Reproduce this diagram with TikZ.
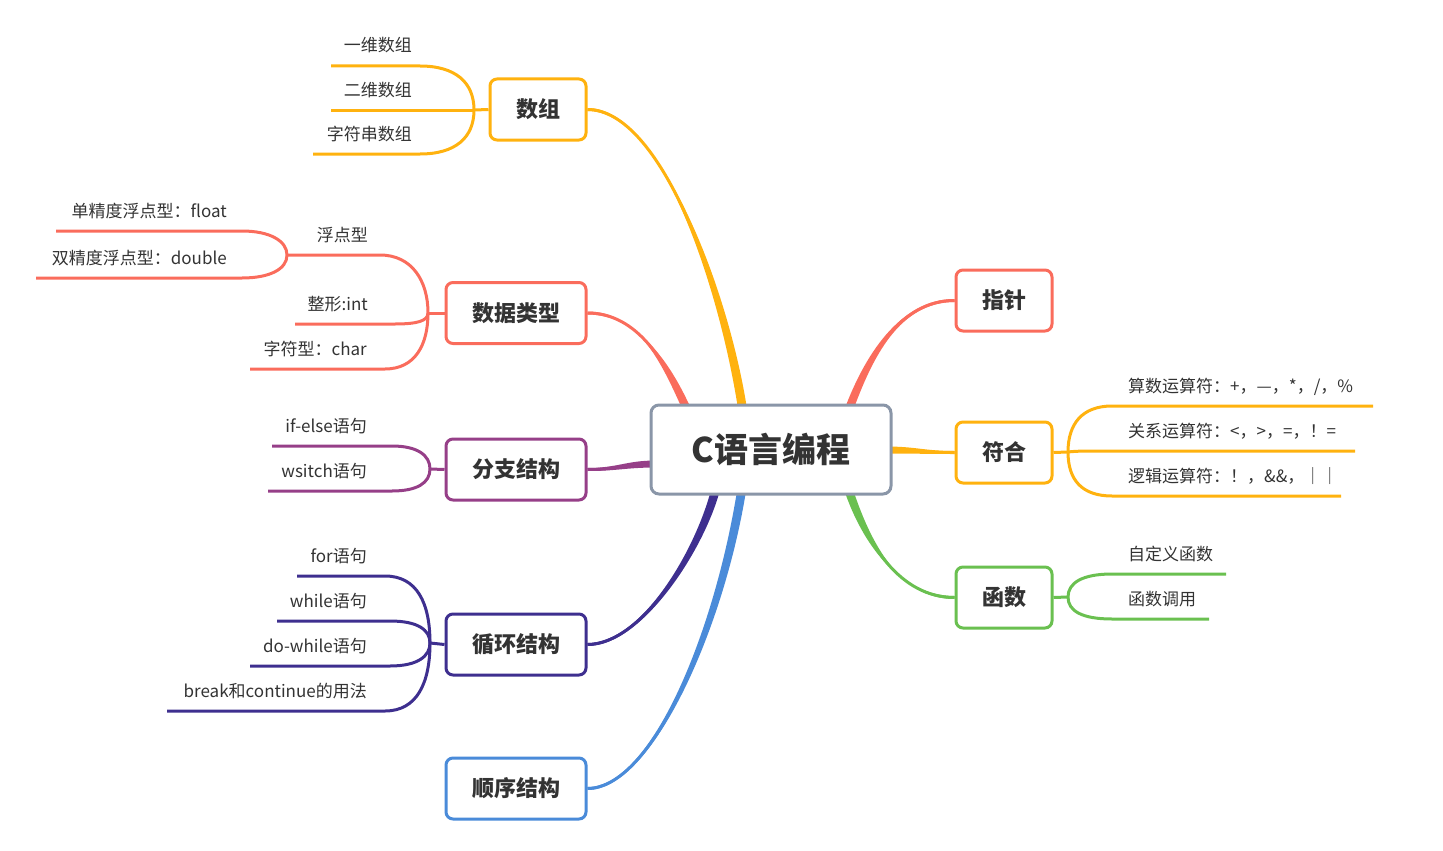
\documentclass[tikz,border=0pt]{standalone}
\usepackage{fontspec}
\setmainfont{Noto Sans CJK SC}
\usetikzlibrary{calc,backgrounds}
\definecolor{cy}{HTML}{FFB20F}
\definecolor{cr}{HTML}{FA6C5C}
\definecolor{cp}{HTML}{963F88}
\definecolor{cb}{HTML}{3E2F8F}
\definecolor{cl}{HTML}{4A8BD9}
\definecolor{cg}{HTML}{6AC050}
\definecolor{cc}{HTML}{8A96A8}
\definecolor{tx}{HTML}{333333}
\tikzset{
 topic/.style={draw=#1, line width=3pt, rounded corners=7pt, fill=white, text=tx,
   font=\fontsize{22}{26}\selectfont\bfseries, minimum height=61pt, minimum width=140pt, inner sep=0pt},
 lbl/.style={text=tx, font=\fontsize{17}{20}\selectfont, inner sep=0pt},
 subln/.style={draw=#1, line width=3pt},
 trunkln/.style={draw=#1, line width=3pt},
}
% color, fork, y, bendx, leftx, hx, vy, name
\newcommand\lbr[8]{%
  \coordinate (#8a) at (#5,#3); \coordinate (#8b) at (#4,#3);
  \draw[subln=#1] (#8a) -- (#8b) .. controls +(#6,0) and +(0,#7) .. (#2);}
\newcommand\rbr[8]{%
  \coordinate (#8a) at (#5,#3); \coordinate (#8b) at (#4,#3);
  \draw[subln=#1] (#2) .. controls +(0,#7) and +(-#6,0) .. (#8b) -- (#8a);}
% tapered trunk, vertical-ish end: color, start, end, c1, c2, endoffset sign
\newcommand\trv[5]{%
  \draw[trunkln=#1] (#2) .. controls +(#4) and +(#5) .. (#3);
  \fill[#1] ($(#2)+(0,-1.5)$) .. controls +(#4) and +(#5) .. ($(#3)+(-4.5,0)$) -- ($(#3)+(4.5,0)$) .. controls +(#5) and +(#4) .. ($(#2)+(0,1.5)$) -- cycle;}
\newcommand\trh[5]{%
  \draw[trunkln=#1] (#2) .. controls +(#4) and +(#5) .. (#3);
  \fill[#1] ($(#2)+(0,-1.5)$) .. controls +(#4) and +(#5) .. ($(#3)+(0,-3.5)$) -- ($(#3)+(0,3.5)$) .. controls +(#5) and +(#4) .. ($(#2)+(0,1.5)$) -- cycle;}
\begin{document}
\begin{tikzpicture}[x=1pt,y=-1pt]
\useasboundingbox (0,0) rectangle (1443,851);
% main nodes
\node[topic=cc, minimum width=240pt, minimum height=89pt, rounded corners=8pt,
  font=\fontsize{34}{40}\selectfont\bfseries] (c) at (771,449.5) {C语言编程};
\node[topic=cy, minimum width=96pt] (shuzu) at (538,109.5) {数组};
\node[topic=cr] (leixing) at (516,313) {数据类型};
\node[topic=cp] (fenzhi) at (516,469.5) {分支结构};
\node[topic=cb] (xunhuan) at (516,644.5) {循环结构};
\node[topic=cl] (shunxu) at (516,788.5) {顺序结构};
\node[topic=cr, minimum width=96pt] (zhizhen) at (1004,300.5) {指针};
\node[topic=cy, minimum width=96pt] (fuhe) at (1004,452.5) {符合};
\node[topic=cg, minimum width=96pt] (hanshu) at (1004,597.5) {函数};
% forks
\coordinate (f1) at (474,110);
\coordinate (f2) at (428,313);
\coordinate (f3) at (287,255);
\coordinate (f4) at (430,469);
\coordinate (f5) at (430,643);
\coordinate (f6) at (1068,452);
\coordinate (f7) at (1068,597);
% trunk ends
\coordinate (e1) at (743,412);
\coordinate (e2) at (688,412);
\coordinate (e3) at (656,464);
\coordinate (e4) at (716,488);
\coordinate (e5) at (742,488);
\coordinate (e6) at (848,412);
\coordinate (e7) at (886,450);
\coordinate (e8) at (848,488);
% labels
\node[lbl, anchor=base east] (t1) at (412,52) {一维数组};
\node[lbl, anchor=base east] (t2) at (412,96) {二维数组};
\node[lbl, anchor=base east] (t3) at (412,140) {字符串数组};
\node[lbl, anchor=base east] (t4) at (368,241) {浮点型};
\node[lbl, anchor=base east] (t5) at (368,310) {整形:int};
\node[lbl, anchor=base east] (t6) at (367,355) {字符型：char};
\node[lbl, anchor=base east] (t7) at (227,217) {单精度浮点型：float};
\node[lbl, anchor=base east] (t8) at (227,264) {双精度浮点型：double};
\node[lbl, anchor=base east] (t9) at (367,432) {if-else语句};
\node[lbl, anchor=base east] (t10) at (367,477) {wsitch语句};
\node[lbl, anchor=base east] (t11) at (367,562) {for语句};
\node[lbl, anchor=base east] (t12) at (367,607) {while语句};
\node[lbl, anchor=base east] (t13) at (367,652) {do-while语句};
\node[lbl, anchor=base east] (t14) at (367,697) {break和continue的用法};
\node[lbl, anchor=base west] (t15) at (1128,392) {算数运算符：+，—，*，/，\%};
\node[lbl, anchor=base west] (t16) at (1128,437) {关系运算符：<，>，=，！=};
\node[lbl, anchor=base west] (t17) at (1128,482) {逻辑运算符：！，\&\&，｜｜};
\node[lbl, anchor=base west] (t18) at (1128,560) {自定义函数};
\node[lbl, anchor=base west] (t19) at (1128,605) {函数调用};
\begin{pgfonlayer}{background}
% trunks (tapered)
\trv{cy}{shuzu.east}{e1}{74,0}{-18,-120}
\trv{cr}{leixing.east}{e2}{50,0}{-22,-50}
\trh{cp}{fenzhi.east}{e3}{30,0}{-30,0}
\trv{cb}{xunhuan.east}{e4}{55,0}{-15,60}
\trv{cl}{shunxu.east}{e5}{65,0}{-22,140}
\trv{cr}{zhizhen.west}{e6}{-55,0}{20,-55}
\trh{cy}{fuhe.west}{e7}{-30,0}{30,0}
\trv{cg}{hanshu.west}{e8}{-55,0}{18,55}
% stubs
\draw[subln=cy] (shuzu.west) -- (f1);
\draw[subln=cr] (leixing.west) -- (f2);
\draw[subln=cp] (fenzhi.west) -- (f4);
\draw[subln=cb] (xunhuan.west) -- (f5);
\draw[subln=cy] (fuhe.east) -- (f6);
\draw[subln=cg] (hanshu.east) -- (f7);
% sub branches
\lbr{cy}{f1}{66}{420}{331}{35}{-28}{s1}
\lbr{cy}{f1}{110}{440}{331}{20}{0}{s2}
\lbr{cy}{f1}{154}{420}{313}{35}{28}{s3}
\lbr{cr}{f2}{255}{380}{287}{32}{-32}{s4}
\lbr{cr}{f2}{324}{395}{295}{22}{8}{s5}
\lbr{cr}{f2}{369}{385}{250}{30}{32}{s6}
\lbr{cr}{f3}{231}{242}{56}{28}{-14}{s7}
\lbr{cr}{f3}{278}{242}{36}{28}{14}{s8}
\lbr{cp}{f4}{446}{392}{272}{25}{-14}{s9}
\lbr{cp}{f4}{491}{392}{268}{25}{14}{s10}
\lbr{cb}{f5}{576}{385}{297}{32}{-40}{s11}
\lbr{cb}{f5}{621}{390}{277}{28}{-13}{s12}
\lbr{cb}{f5}{666}{390}{250}{28}{13}{s13}
\lbr{cb}{f5}{711}{385}{167}{32}{40}{s14}
\rbr{cy}{f6}{406}{1112}{1373}{30}{-28}{r1}
\rbr{cy}{f6}{451}{1090}{1355}{15}{0}{r2}
\rbr{cy}{f6}{496}{1112}{1341}{30}{28}{r3}
\rbr{cg}{f7}{574}{1112}{1226}{30}{-14}{r4}
\rbr{cg}{f7}{619}{1112}{1209}{30}{14}{r5}
\end{pgfonlayer}
\end{tikzpicture}
\end{document}
